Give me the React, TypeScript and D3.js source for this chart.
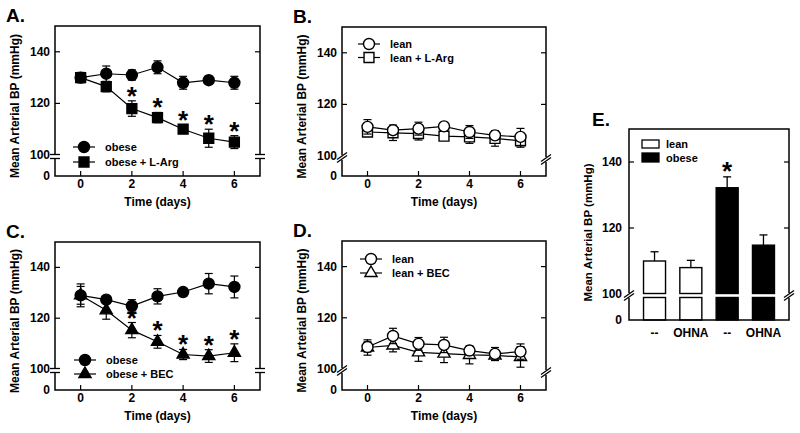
import React from 'react';
import * as d3 from 'd3';

const FONT = '"Liberation Sans", Arial, Helvetica, sans-serif';

const days = [0, 1, 2, 3, 4, 5, 6];
const dayTicks = [0, 2, 4, 6];
const bpTicks = [120, 140];
const bpLabels = [100, 120, 140];

// panel A: obese vs obese + L-Arg
const obeseA = [130, 131.5, 131, 134, 128, 129, 128];
const obeseAErr = [2, 3, 2, 2.5, 2.5, 1.5, 2.5];
const obeseLArg = [130, 126.5, 118, 114.5, 110, 106.5, 105];
const obeseLArgErr = [1.5, 2, 3, 2, 1.5, 3.5, 2.5];
const starsA = [2, 3, 4, 5, 6];

// panel B: lean vs lean + L-Arg
const leanB = [111.3, 110, 110.6, 111.5, 109.3, 108, 107.4];
const leanBErr = [2.8, 1.5, 2.5, 1.5, 2.5, 1.5, 3.3];
const leanLArg = [109.3, 109, 108.7, 107.7, 107.4, 106.8, 105.9];
const leanLArgErr = [1.5, 3, 2.5, 1.5, 2.5, 3, 2.5];

// panel C: obese vs obese + BEC
const obeseC = [129, 127.3, 124.8, 128.6, 130.3, 133.6, 132.3];
const obeseCErr = [4.5, 1.5, 2.5, 3, 1.5, 4, 4.3];
const obeseBEC = [129, 123.1, 115.3, 110.7, 105.7, 105.1, 106.4];
const obeseBECErr = [3.5, 3.5, 3, 2.5, 2, 2.5, 3.5];
const starsC = [2, 3, 4, 5, 6];

// panel D: lean vs lean + BEC
const leanD = [108.6, 112.9, 109.8, 109.4, 107.2, 105.9, 106.8];
const leanDErr = [2, 3, 2.5, 3, 1.5, 2.5, 3];
const leanBEC = [108.4, 109.2, 106.5, 106, 105.5, 105.3, 104.7];
const leanBECErr = [3, 2.5, 3.5, 3.5, 3.5, 2, 4];

// panel E: OHNA bars
const barLabels = ['--', 'OHNA', '--', 'OHNA'];
const barGroups = ['lean', 'lean', 'obese', 'obese'];
const barValues = [110, 108, 132.2, 114.8];
const barErr = [2.8, 2.2, 3.3, 3.1];
const barStars = [2];

type Marker = 'circle' | 'square' | 'triangle';
type Series = { label: string; values: number[]; err: number[]; marker: Marker; filled: boolean };

const symbolFor = (m: Marker) =>
  d3
    .symbol()
    .type(m === 'circle' ? d3.symbolCircle : m === 'square' ? d3.symbolSquare : d3.symbolTriangle)
    .size(m === 'circle' ? 95 : m === 'square' ? 98 : 64)();

function MarkerShape({ m, filled, x, y }: { m: Marker; filled: boolean; x: number; y: number }) {
  return (
    <path
      d={symbolFor(m) || ''}
      transform={`translate(${x},${y})`}
      fill={filled ? '#000' : '#fff'}
      stroke="#000"
      strokeWidth={1.4}
    />
  );
}

function AxisBreak({ x, y, slant }: { x: number; y: number; slant: boolean }) {
  if (!slant) {
    return (
      <g>
        <rect x={x - 2} y={y - 2} width={4} height={4} fill="#fff" />
        <line x1={x - 5} x2={x + 5} y1={y - 2} y2={y - 2} stroke="#000" strokeWidth={1.3} />
        <line x1={x - 5} x2={x + 5} y1={y + 2} y2={y + 2} stroke="#000" strokeWidth={1.3} />
      </g>
    );
  }
  return (
    <g>
      <rect x={x - 2} y={y - 2.5} width={4} height={5} fill="#fff" />
      <line x1={x - 5} x2={x + 5} y1={y + 2} y2={y - 5} stroke="#000" strokeWidth={1.3} />
      <line x1={x - 5} x2={x + 5} y1={y + 5} y2={y - 2} stroke="#000" strokeWidth={1.3} />
    </g>
  );
}

type PanelProps = {
  letter: string;
  x0: number;
  x1: number;
  y0: number;
  y1: number;
  y100: number;
  series: Series[];
  stars?: number[];
  legendX: number;
  legendY: number;
  legendGap: number;
  slant: boolean;
};

function LinePanel({ letter, x0, x1, y0, y1, y100, series, stars = [], legendX, legendY, legendGap, slant }: PanelProps) {
  const x = d3.scaleLinear().domain([-1, 7]).range([x0, x1]);
  const y = d3.scaleLinear().domain([100, 150]).range([y100, y0]);
  const yb = y100 + 1.5;
  const line = d3
    .line<number>()
    .x((_, i) => x(days[i]))
    .y((d) => y(d));
  const starSeries = series[1];

  return (
    <g fontFamily={FONT} fontWeight="bold">
      <text x={x0 - 49} y={y0 - 4} fontSize={19}>
        {letter}
      </text>
      <rect x={x0} y={y0} width={x1 - x0} height={y1 - y0} fill="none" stroke="#000" strokeWidth={1.5} />
      {bpTicks.map((t) => (
        <g key={t}>
          <line x1={x0} x2={x0 + 5} y1={y(t)} y2={y(t)} stroke="#000" strokeWidth={1.2} />
          <line x1={x1} x2={x1 - 5} y1={y(t)} y2={y(t)} stroke="#000" strokeWidth={1.2} />
        </g>
      ))}
      {dayTicks.map((t) => (
        <g key={t}>
          <line x1={x(t)} x2={x(t)} y1={y1} y2={y1 - 5} stroke="#000" strokeWidth={1.2} />
          <text x={x(t)} y={y1 + 12} fontSize={12} textAnchor="middle">
            {t}
          </text>
        </g>
      ))}
      {bpLabels.map((t) => (
        <text key={t} x={x0 - 5} y={y(t) + 4} fontSize={12} textAnchor="end">
          {t}
        </text>
      ))}
      <text x={x0 - 5} y={y1 + 4} fontSize={12} textAnchor="end">
        0
      </text>
      <AxisBreak x={x0} y={yb} slant={slant} />
      <AxisBreak x={x1} y={yb + (slant ? 2 : 0)} slant={slant} />
      <text
        transform={`translate(${x0 - 36},${(y0 + y1) / 2 + 5}) rotate(-90)`}
        fontSize={12}
        textAnchor="middle"
      >
        Mean Arterial BP (mmHg)
      </text>
      <text x={(x0 + x1) / 2} y={y1 + 30} fontSize={12} textAnchor="middle">
        Time (days)
      </text>

      {[...series].reverse().map((s) => (
        <g key={s.label}>
          <path d={line(s.values) || ''} fill="none" stroke="#000" strokeWidth={1.2} />
          {s.values.map((v, i) => (
            <g key={i}>
              <line x1={x(days[i])} x2={x(days[i])} y1={y(v - s.err[i])} y2={y(v + s.err[i])} stroke="#000" strokeWidth={1.2} />
              <line x1={x(days[i]) - 4} x2={x(days[i]) + 4} y1={y(v - s.err[i])} y2={y(v - s.err[i])} stroke="#000" strokeWidth={1.2} />
              <line x1={x(days[i]) - 4} x2={x(days[i]) + 4} y1={y(v + s.err[i])} y2={y(v + s.err[i])} stroke="#000" strokeWidth={1.2} />
            </g>
          ))}
          {s.values.map((v, i) => (
            <MarkerShape key={i} m={s.marker} filled={s.filled} x={x(days[i])} y={y(v)} />
          ))}
        </g>
      ))}

      {stars.map((i) => (
        <text
          key={i}
          x={x(days[i])}
          y={y(starSeries.values[i] + starSeries.err[i]) + 4}
          fontSize={26}
          textAnchor="middle"
        >
          *
        </text>
      ))}

      {series.map((s, k) => {
        const ly = legendY + k * legendGap;
        return (
          <g key={s.label}>
            <line x1={legendX - 11} x2={legendX + 11} y1={ly} y2={ly} stroke="#000" strokeWidth={1.2} />
            <MarkerShape m={s.marker} filled={s.filled} x={legendX} y={ly} />
            <text x={legendX + 21} y={ly + 4} fontSize={11}>
              {s.label}
            </text>
          </g>
        );
      })}
    </g>
  );
}

function BarPanel() {
  const x0 = 629;
  const x1 = 789;
  const y0 = 129;
  const y1 = 320;
  const y100 = 294;
  const yb = y100 + 1.5;
  const x = d3
    .scaleBand<number>()
    .domain(barValues.map((_, i) => i))
    .range([x0, x1])
    .paddingInner(0.394)
    .paddingOuter(0.4);
  const y = d3.scaleLinear().domain([100, 150]).range([y100, y0]);
  const bw = x.bandwidth();

  return (
    <g fontFamily={FONT} fontWeight="bold">
      <text x={x0 - 37} y={y0 - 3} fontSize={19}>
        E.
      </text>
      {barValues.map((v, i) => {
        const bx = x(i) || 0;
        const fill = barGroups[i] === 'obese' ? '#000' : '#fff';
        const cx = bx + bw / 2;
        return (
          <g key={i}>
            <line x1={cx} x2={cx} y1={y(v)} y2={y(v + barErr[i])} stroke="#000" strokeWidth={1.3} />
            <line x1={cx - 4} x2={cx + 4} y1={y(v + barErr[i])} y2={y(v + barErr[i])} stroke="#000" strokeWidth={1.3} />
            <rect x={bx} y={y(v)} width={bw} height={yb - 2 - y(v)} fill={fill} stroke="#000" strokeWidth={1.4} />
            <rect x={bx} y={yb + 2} width={bw} height={y1 - yb - 2} fill={fill} stroke="#000" strokeWidth={1.4} />
            <text x={cx} y={y1 + 17} fontSize={12} textAnchor="middle">
              {barLabels[i]}
            </text>
          </g>
        );
      })}
      {barStars.map((i) => (
        <text
          key={i}
          x={(x(i) || 0) + bw / 2}
          y={y(barValues[i] + barErr[i]) + 3}
          fontSize={26}
          textAnchor="middle"
        >
          *
        </text>
      ))}
      <rect x={x0} y={y0} width={x1 - x0} height={y1 - y0} fill="none" stroke="#000" strokeWidth={1.5} />
      {bpTicks.map((t) => (
        <g key={t}>
          <line x1={x0} x2={x0 + 5} y1={y(t)} y2={y(t)} stroke="#000" strokeWidth={1.2} />
          <line x1={x1} x2={x1 - 5} y1={y(t)} y2={y(t)} stroke="#000" strokeWidth={1.2} />
        </g>
      ))}
      {bpLabels.map((t) => (
        <text key={t} x={x0 - 7} y={y(t) + 4} fontSize={12} textAnchor="end">
          {t}
        </text>
      ))}
      <text x={x0 - 7} y={y1 + 4} fontSize={12} textAnchor="end">
        0
      </text>
      <AxisBreak x={x0} y={yb} slant />
      <AxisBreak x={x1} y={yb} slant />
      <text transform={`translate(${x0 - 37},${(y0 + y1) / 2 + 8}) rotate(-90)`} fontSize={11.5} textAnchor="middle">
        Mean Arterial BP (mmHg)
      </text>

      <rect x={642} y={140} width={17} height={8} fill="#fff" stroke="#000" strokeWidth={1.3} />
      <text x={666} y={148} fontSize={11}>
        lean
      </text>
      <rect x={642} y={153} width={17} height={9} fill="#000" stroke="#000" strokeWidth={1.3} />
      <text x={666} y={162} fontSize={11}>
        obese
      </text>
    </g>
  );
}

export default function App() {
  return (
    <svg
      width={800}
      height={433}
      viewBox="0 0 800 433"
      style={{ position: 'absolute', left: 0, top: 0, background: '#fff' }}
    >
      <rect width={800} height={433} fill="#fff" />
      <LinePanel
        letter="A."
        x0={55}
        x1={260}
        y0={26}
        y1={176}
        y100={155}
        slant={false}
        legendX={84}
        legendY={147}
        legendGap={15}
        stars={starsA}
        series={[
          { label: 'obese', values: obeseA, err: obeseAErr, marker: 'circle', filled: true },
          { label: 'obese + L-Arg', values: obeseLArg, err: obeseLArgErr, marker: 'square', filled: true },
        ]}
      />
      <LinePanel
        letter="B."
        x0={342}
        x1={546}
        y0={27}
        y1={176}
        y100={156}
        slant
        legendX={369}
        legendY={44}
        legendGap={13.5}
        series={[
          { label: 'lean', values: leanB, err: leanBErr, marker: 'circle', filled: false },
          { label: 'lean + L-Arg', values: leanLArg, err: leanLArgErr, marker: 'square', filled: false },
        ]}
      />
      <LinePanel
        letter="C."
        x0={55}
        x1={260}
        y0={242}
        y1={390}
        y100={369}
        slant={false}
        legendX={85}
        legendY={360}
        legendGap={14}
        stars={starsC}
        series={[
          { label: 'obese', values: obeseC, err: obeseCErr, marker: 'circle', filled: true },
          { label: 'obese + BEC', values: obeseBEC, err: obeseBECErr, marker: 'triangle', filled: true },
        ]}
      />
      <LinePanel
        letter="D."
        x0={342}
        x1={546}
        y0={241}
        y1={390}
        y100={369}
        slant
        legendX={371}
        legendY={259}
        legendGap={14}
        series={[
          { label: 'lean', values: leanD, err: leanDErr, marker: 'circle', filled: false },
          { label: 'lean + BEC', values: leanBEC, err: leanBECErr, marker: 'triangle', filled: false },
        ]}
      />
      <BarPanel />
    </svg>
  );
}
